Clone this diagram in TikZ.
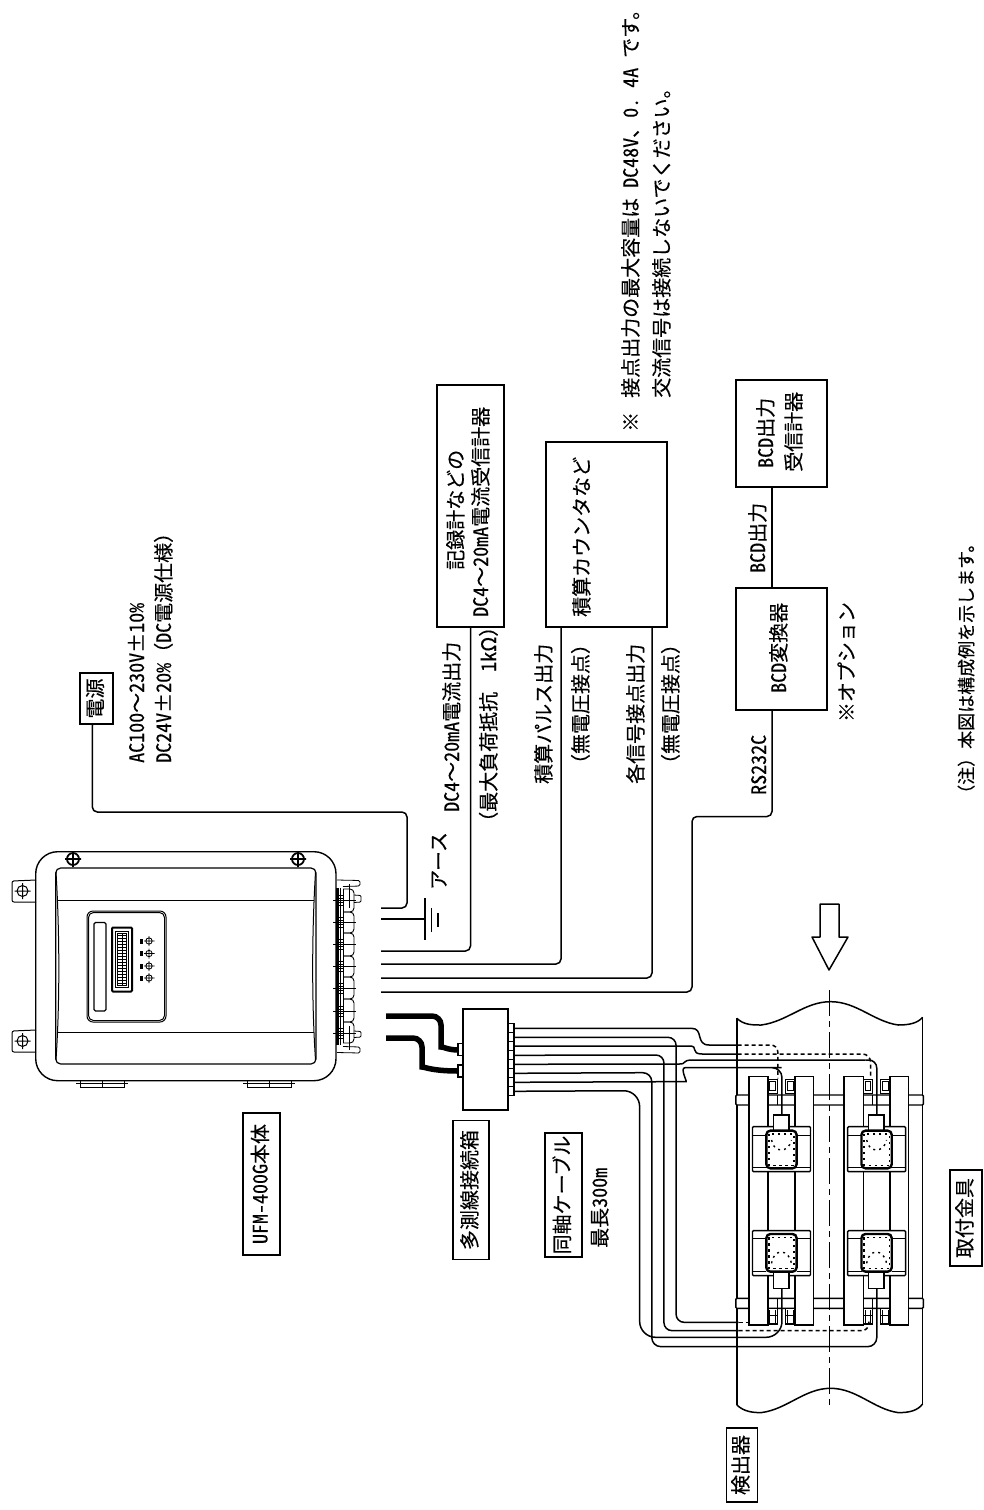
\documentclass[tikz,border=0pt]{standalone}
\usepackage{fontspec}
\setmainfont[FakeBold=0.25]{Noto Sans CJK JP}
\newfontfamily\hwf[RawFeature=+hwid,FakeBold=0.25]{Noto Sans CJK JP}
\newfontfamily\fwf[RawFeature=+fwid,FakeBold=0.25]{Noto Sans CJK JP}
\newcommand{\hw}[1]{{\hwf #1}}
\newcommand{\fw}[1]{{\fwf #1}}
\usetikzlibrary{calc}
\tikzset{
  base/.style={line width=1.5pt,line join=round},
  thin line/.style={line width=0.9pt},
  wire/.style={line width=1.5pt,rounded corners=5pt},
  cable/.style={line width=5.5pt},
  txt/.style={rotate=90,inner sep=0pt,anchor=west,font=\fontsize{20}{20}\selectfont,text height=15.5pt,text depth=3.5pt},
  txtc/.style={txt,anchor=center},
  labbox/.style={draw,line width=1.5pt,rotate=90,inner sep=0pt,font=\fontsize{20}{20}\selectfont,text height=15.5pt,text depth=3.5pt},
  devbox/.style={draw,line width=1.5pt,inner sep=0pt,fill=white},
  wb/.style={draw,fill=white,line width=1.4pt},
}
\begin{document}
\begin{tikzpicture}[x=1pt,y=-1pt]
\useasboundingbox (0,0) rectangle (984,1510);
%--- main unit
\begin{scope}[line width=1pt]
\draw[line width=1.4pt,rounded corners=22pt] (35.7,851.7) rectangle (336,1080.7);
\draw[line width=1.2pt,rounded corners=5pt] (55.7,868) rectangle (316,1064);
\draw (57,900) -- (314,900) (57,1032) -- (314,1032);
\draw (56,872) .. controls (59.5,930) and (60,1000) .. (56,1060);
\draw (315.5,872) .. controls (312,930) and (311.5,1000) .. (315.5,1060);
% lugs
\foreach \yy in {880,1030}{
  \draw[rounded corners=2pt] (36,\yy) -- (12,\yy+1) -- (12,\yy+22) -- (36,\yy+22);
  \draw (22.5,\yy+11) circle (5.5) (14.5,\yy+11) -- (30.5,\yy+11) (22.5,\yy+3) -- (22.5,\yy+19);
}
% screws
\foreach \xx in {73,298}{
  \draw[line width=1.8pt] (\xx,859) circle (6) (\xx-8,859) -- (\xx+8,859) (\xx,851) -- (\xx,867);
}
% display panel
\draw[rounded corners=6pt] (87,911) rectangle (166,1022);
\draw[rounded corners=5pt] (88.5,912.5) rectangle (164.5,1020.5);
\draw[rounded corners=1.5pt,line width=1.2pt] (94,922.5) rectangle (106,1011);
\draw[line width=2pt,rounded corners=1pt] (112,927.5) rectangle (132,991.5);
\draw (115.5,931.5) rectangle (128.5,987.5);
\draw[line width=0.6pt] (117.5,933.5) rectangle (126.5,985);
\foreach \k in {0,...,16}{\draw[line width=0.6pt] (117.5,935+3*\k) -- (126.5,935+3*\k);}
\draw[line width=0.6pt] (122,933.5) -- (122,985);
\foreach \yy in {941,953.5,966,978}{
  \draw[line width=0.8pt] (149,\yy) circle (3.2) (144,\yy) -- (154.5,\yy) (149,\yy-5) -- (149,\yy+5);
  \fill (139.5,\yy-2.5) rectangle (143,\yy+2.5);
}
% bottom clamps
\foreach \xx in {76,243}{
  \draw[line width=0.7pt] (\xx,1083.5) -- (\xx+52,1083.5) (\xx+4,1087) -- (\xx+48,1087);
  \draw[line width=0.7pt] (\xx+4,1081) -- (\xx+4,1088) (\xx+26,1081) -- (\xx+26,1088) (\xx+48,1081) -- (\xx+48,1088);
}
% terminals
\draw[line width=2.4pt] (337.5,888) -- (337.5,1045);
\draw[line width=0.8pt,rounded corners=1.5pt] (337,880) -- (360,880.5) -- (360,886) -- (343,886.5);
\draw[line width=0.8pt,rounded corners=1.5pt] (337,1052.5) -- (360,1053) -- (360,1047) -- (343,1046.5);
\draw[line width=0.8pt,rounded corners=1pt] (354,895) -- (361,895.5) -- (361,902) -- (354,902.5);
\draw[line width=0.8pt,rounded corners=1pt] (354,1031) -- (361,1031.5) -- (361,1037) -- (354,1037.5);
\foreach \ya/\yb in {889/912,912/933,933/956,956/977,977/999,999/1022,1022/1043}{
  \draw[line width=0.9pt,rounded corners=4pt] (343,\ya) -- (354,\ya) -- (354,\yb) -- (343,\yb);
}
\draw[line width=0.9pt] (343,889) -- (343,1043) (340,888) -- (340,1045);
\foreach \yy in {900,922,944,966,988,1011,1033}{
  \draw[line width=0.8pt] (333,\yy) -- (356,\yy);
  \draw[line width=0.8pt] (338,\yy-5) rectangle (343,\yy+5);
  \draw[line width=0.8pt] (338,\yy-2) -- (343,\yy-2) (338,\yy+2) -- (343,\yy+2);
}
\draw[line width=0.8pt] (349,884) -- (349,908) (349,1026) -- (349,1050);
\end{scope}
%--- free ends at the unit
\coordinate (e1) at (381,908);
\coordinate (e2) at (381,919);
\coordinate (e3) at (381,951);
\coordinate (e4) at (381,964);
\coordinate (e5) at (381,978);
\coordinate (e6) at (381,992);
%--- boxes
\node[labbox,minimum width=51pt,minimum height=33pt] (pw) at (96.5,698.5) {電源};
\node[devbox,minimum width=67pt,minimum height=242pt] (dc) at (470.5,506) {};
\node[devbox,minimum width=121pt,minimum height=185pt] (cnt) at (606.5,534.5) {};
\node[devbox,minimum width=91pt,minimum height=107pt] (rec) at (781.5,433.5) {};
\node[devbox,minimum width=91pt,minimum height=122pt] (bcd) at (781.5,649) {};
\node[labbox,minimum width=142pt,minimum height=37pt] (ufm) at (261.5,1184) {\hw{UFM-400G}本体};
\node[labbox,minimum width=139pt,minimum height=36pt] (jb) at (471,1190) {多測線接続箱};
\node[labbox,minimum width=124pt,minimum height=37pt] (cx) at (563.5,1195) {同軸ケーブル};
\node[labbox,minimum width=96pt,minimum height=32pt] (mt) at (966,1218) {取付金具};
\node[labbox,minimum width=74pt,minimum height=31pt] (dt) at (742,1465) {検出器};
%--- wires
\draw[wire] ([xshift=-4pt]pw.west) -- (92.3,812) -- (407,812) -- (407,908) -- (e1);
\draw[base] (e2) -- (425,919);
\draw[base] (425,898) -- (425,940) (431.5,908) -- (431.5,932) (438,913) -- (438,927);
\draw[wire] (dc.south) |- (e3);
\draw[wire] ([xshift=-45.5pt]cnt.south) |- (e4);
\draw[wire] ([xshift=45.5pt]cnt.south) |- (e5);
\draw[base] ([xshift=-9.5pt]rec.south) -- ([xshift=-9.5pt]bcd.north);
\draw[wire] ([xshift=-9.5pt]bcd.south) -- (772,816.5) -- (692,816.5) -- (692,992) -- (e6);
%--- hollow arrow
\draw[base] (820,904) -- (839,904) -- (839,937) -- (848,937) -- (829,970) -- (812,937) -- (820,937) -- cycle;
%--- pipe and mounts (drawn in the scale of the detail)
\begin{scope}[shift={(440,980)},x=0.3472pt,y=-0.3333pt]
\draw[base] (855,115) .. controls (875,135) and (900,135) .. (925,135) .. controls (1000,125) and (1050,65) .. (1125,65) .. controls (1200,65) and (1250,125) .. (1320,135) .. controls (1350,135) and (1375,130) .. (1390,112);
\draw[base] (855,1275) .. controls (875,1295) and (900,1298) .. (925,1298) .. controls (1000,1288) and (1050,1225) .. (1125,1225) .. controls (1200,1225) and (1250,1288) .. (1320,1298) .. controls (1350,1298) and (1375,1293) .. (1390,1272);
\draw[base] (855,115) -- (855,1275) (1390,112) -- (1390,1272);
\draw[wb,rounded corners=1pt] (852,345) rectangle (1392,375);
\draw[wb,rounded corners=1pt] (852,955) rectangle (1392,985);
\foreach \ox in {0,274}{
\begin{scope}[shift={(\ox,0)}]
  \draw[wb] (890,290) rectangle (945,1035);
  \draw[wb] (1022,290) rectangle (1075,1035);
  % nuts
  \foreach \nx in {945,995}{
    \draw[wb] (\nx,298) rectangle (\nx+27,340);
    \draw[thin line] (\nx+5,305) rectangle (\nx+22,332);
    \draw[wb] (\nx,985) rectangle (\nx+27,1032);
    \draw[thin line] (\nx,1007) -- (\nx+27,1007) (\nx+5,990) -- (\nx+5,1028) (\nx+22,990) -- (\nx+22,1028);
    \draw[thin line] (\nx+26,345) -- (\nx+26,375) (\nx+26,955) -- (\nx+26,985);
  }
  % upper sensor
  \draw[wb,rounded corners=1pt] (900,440) rectangle (1067,575);
  \draw[thin line] (900,465) -- (940,465) (1027,465) -- (1067,465) (900,562) -- (1067,562);
  \draw[wb] (960,405) rectangle (1005,452);
  \draw[fill=white,line width=2.4pt,rounded corners=4pt] (940,452) rectangle (1027,565);
  \draw[line width=1.4pt,dash pattern=on 2.5pt off 3.5pt] (947,462) rectangle (1020,556);
  \draw[line width=1.4pt,dash pattern=on 2pt off 4pt] (955,480) .. controls (960,520) and (1005,520) .. (1012,480);
  % lower sensor
  \draw[wb,rounded corners=1pt] (900,752) rectangle (1067,887);
  \draw[thin line] (900,875) -- (940,875) (1027,875) -- (1067,875) (900,775) -- (1067,775);
  \draw[wb] (960,878) rectangle (1005,925);
  \draw[fill=white,line width=2.4pt,rounded corners=4pt] (940,762) rectangle (1027,875);
  \draw[line width=1.4pt,dash pattern=on 2.5pt off 3.5pt] (947,772) rectangle (1020,866);
  \draw[line width=1.4pt,dash pattern=on 2pt off 4pt] (955,850) .. controls (960,805) and (1005,805) .. (1012,850);
\end{scope}
}
%--- centre line
\draw[line width=1.4pt,dash pattern=on 26pt off 5pt on 6pt off 5pt] (1122,30) -- (1122,1275);
\end{scope}
%--- cables and junction box
\draw[cable,rounded corners=9pt] (386,1016) -- (441,1016) -- (441,1038) .. controls (441,1046) and (448,1050) .. (458,1050);
\draw[cable,rounded corners=9pt] (386,1038) -- (422,1038) -- (422,1058) .. controls (422,1066) and (430,1071) .. (458,1071);
\draw[wb] (458,1043.5) rectangle (464,1055.5);
\draw[wb] (458,1065) rectangle (464,1077);
\node[devbox,minimum width=45pt,minimum height=101pt] (jbx) at (485.5,1059.5) {};
\foreach \k in {0,...,7}{\draw[fill=white,line width=1.1pt] (508,1023.8+9*\k) rectangle (514,1032.8+9*\k);}
\foreach \k [count=\n] in {1028.3,1037.3,1046,1055.3,1064.3,1073.3,1082.3,1091.3}{\coordinate (s\n) at (514,\k);}
%--- cables from the junction box to the sensors
\begin{scope}[shift={(440,980)},x=0.3472pt,y=-0.3333pt]
\tikzset{wr/.style={line width=1.5pt},dsh/.style={line width=1.5pt,dash pattern=on 4pt off 3pt},r/.style={rounded corners=8pt}}
\draw[wr] (s1) -- (725,145) .. controls (760,145) and (735,195) .. (775,195) -- (857,195);
\draw[dsh,rounded corners=7pt] (857,195) -- (973,195) -- (973,295);
\draw[wr,r] (s2) -- (680,172) -- (680,1027) -- (860,1027);
\draw[dsh] (860,1027) -- (890,1027);
\draw[wr] (s3) -- (720,198) .. controls (745,198) and (720,222) .. (755,222) -- (857,222);
\draw[dsh,rounded corners=8pt] (857,222) -- (1240,222) -- (1240,295);
\draw[wr,r] (s4) -- (645,225) -- (645,1052) -- (860,1052);
\draw[dsh,rounded corners=7pt] (860,1052) -- (1235,1052) -- (1235,1025);
\draw[wr] (s5) -- (690,252) .. controls (712,252) and (695,240) .. (728,240) -- (1225,240);
\draw[wr,rounded corners=8pt] (1225,240) -- (1258,240) -- (1258,405);
\draw[wr,rounded corners=10pt] (s7) -- (680,305) .. controls (712,305) and (690,263) .. (735,263) -- (955,263) -- (985,263) -- (985,405);
\draw[wr,rounded corners=9pt] (s6) -- (610,278) -- (610,1100) -- (1258,1100) -- (1258,925);
\draw[wr,rounded corners=16pt] (s8) -- (575,332) -- (575,1072) -- (985,1072) -- (985,925);
\end{scope}
%--- texts
\node[txt] (t1) at (138,763) {\hw{AC100}〜\hw{230V}\fw{±}\hw{10\%}};
\node[txt] (t2) at (165,763) {\hw{DC24V}\fw{±}\hw{20\%}（\hw{DC}電源仕様）};
\node[txt] (t3) at (440,890) {アース};
\node[txt] (t4) at (453,812) {\hw{DC4}〜\hw{20mA}電流出力};
\node[txt] (t5) at (490,832) {（最大負荷抵抗\hw{\ \ 1k}\fw{Ω}）};
\node[txt] (t6) at (545,784) {積算パルス出力};
\node[txtc] (t7) at (582,704) {（無電圧接点）};
\node[txt] (t8) at (637,784) {各信号接点出力};
\node[txtc] (t9) at (672,704) {（無電圧接点）};
\node[txt] (t10) at (760,795) {\hw{RS232C}};
\node[txt] (t11) at (759,573) {\hw{BCD}出力};
\node[txt] (t12) at (780,693) {\hw{BCD}変換器};
\node[txt] (t13) at (767,468) {\hw{BCD}出力};
\node[txt] (t14) at (795,472) {受信計器};
\node[txt] (t15) at (457,570) {記録計などの};
\node[txt] (t16) at (482,617) {\hw{DC4}〜\hw{20mA}電流受信計器};
\node[txt] (t17) at (583,617) {積算カウンタなど};
\node[txt] (t18) at (632,432) {※};
\node[txt] (t19) at (632,398) {接点出力の最大容量は\hw{ DC48V}、\hw{0.\ 4A\ }です。};
\node[txt] (t20) at (663,398) {交流信号は接続しないでください。};
\node[txt] (t21) at (601,1248) {最長\hw{300m}};
\node[txtc] (t22) at (848,662) {※オプション};
\node[txt,font=\fontsize{18}{18}\selectfont] (t23) at (967,803) {（注）本図は構成例を示します。};
\end{tikzpicture}
\end{document}
